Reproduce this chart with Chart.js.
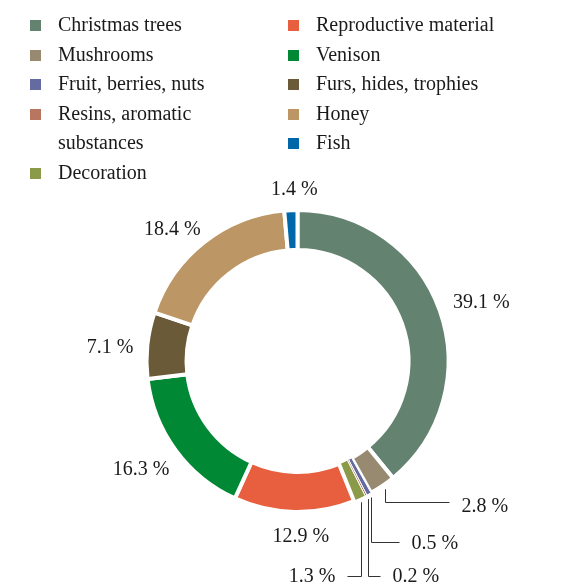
<!DOCTYPE html>
<html>
<head>
<meta charset="utf-8">
<script src="https://cdn.jsdelivr.net/npm/chart.js@4"></script>
<style>
  html, body { margin: 0; padding: 0; background: #fff; }
  #wrap { position: relative; width: 567px; height: 585px; }
  #chart { position: absolute; left: 0; top: 0; }
  #legend { position: absolute; left: 0; top: 0; font-family: "Liberation Serif", serif; font-size: 20px; color: #1a1a1a; }
  .col { position: absolute; top: 10px; }
  .item { position: relative; padding-left: 28px; line-height: 29.5px; white-space: nowrap; }
  .item.wrap { white-space: normal; width: 150px; }
  .item i { position: absolute; left: 0; top: 10px; width: 11px; height: 11px; }
</style>
</head>
<body>
<div id="wrap">
  <canvas id="chart" width="567" height="585"></canvas>
  <div id="legend"></div>
</div>
<script>
const categories = [
  "Christmas trees", "Mushrooms", "Fruit, berries, nuts", "Resins, aromatic substances", "Decoration",
  "Reproductive material", "Venison", "Furs, hides, trophies", "Honey", "Fish"
];
const shares = [39.1, 2.8, 0.5, 0.2, 1.3, 12.9, 16.3, 7.1, 18.4, 1.4];
const colors = [
  "#648270", "#978a70", "#646ba0", "#b87660", "#8a9a48",
  "#e85f3f", "#008834", "#6a5a38", "#bc9664", "#0068a8"
];
const borders = [4, 4, 1, 1, 1, 4, 4, 4, 4, 4];

// leader lines for the thin slices: [drop, run, text dy] in px
const leaders = { 1: [13, 64, 4], 2: [44, 28, 1], 3: [77, 12, 0], 4: [74, -14, 0] };
// small hand nudges for the outside labels, [dx, dy]
const nudges = { 5: [7, 3], 6: [5, 7], 7: [0, 5], 8: [5, 5], 9: [4, 2] };

// legend (two columns, same order as the data)
const legend = document.getElementById("legend");
[[0, 5, 30], [5, 10, 288]].forEach(([a, b, left]) => {
  const col = document.createElement("div");
  col.className = "col";
  col.style.left = left + "px";
  for (let i = a; i < b; i++) {
    const it = document.createElement("div");
    it.className = "item" + (categories[i].length > 22 ? " wrap" : "");
    it.innerHTML = '<i style="background:' + colors[i] + '"></i>' + categories[i];
    col.appendChild(it);
  }
  legend.appendChild(col);
});

const pctLabels = {
  id: "pctLabels",
  afterDatasetsDraw(chart) {
    const ctx = chart.ctx;
    const arcs = chart.getDatasetMeta(0).data;
    ctx.save();
    ctx.font = '20px "Liberation Serif", serif';
    ctx.fillStyle = "#1a1a1a";
    ctx.strokeStyle = "#333";
    ctx.lineWidth = 1;
    ctx.textBaseline = "middle";
    arcs.forEach((arc, i) => {
      const { x, y, startAngle, endAngle, outerRadius } = arc.getProps(["x", "y", "startAngle", "endAngle", "outerRadius"], true);
      const mid = (startAngle + endAngle) / 2;
      const cos = Math.cos(mid), sin = Math.sin(mid);
      const text = shares[i].toFixed(1) + " %";
      if (leaders[i]) {
        const [drop, run, tdy] = leaders[i];
        const sx = Math.round(x + (outerRadius + 4) * cos) + 0.5;
        const sy = y + (outerRadius + 4) * sin;
        const ey = Math.round(sy + drop) + 0.5;
        ctx.beginPath();
        ctx.moveTo(sx, sy);
        ctx.lineTo(sx, ey);
        ctx.lineTo(sx + run, ey);
        ctx.stroke();
        ctx.textAlign = run > 0 ? "left" : "right";
        ctx.fillText(text, sx + run + (run > 0 ? 12 : -12), ey + tdy);
        return;
      }
      const [dx, dy] = nudges[i] || [0, 0];
      const r = outerRadius + 14;
      const ax = x + r * cos, ay = y + r * sin;
      ctx.textAlign = Math.abs(cos) < 0.2 ? "center" : (cos > 0 ? "left" : "right");
      ctx.fillText(text, ax + dx, ay + sin * 8 + dy);
    });
    ctx.restore();
  }
};

new Chart(document.getElementById("chart"), {
  type: "doughnut",
  data: {
    labels: categories,
    datasets: [{
      data: shares,
      backgroundColor: colors,
      borderColor: "#ffffff",
      borderWidth: borders,
      hoverOffset: 0
    }]
  },
  options: {
    responsive: false,
    animation: false,
    cutout: "73.5%",
    rotation: 0,
    layout: { padding: { left: 144.5, right: 116.5, top: 208, bottom: 71 } },
    plugins: {
      legend: { display: false },
      tooltip: { enabled: false }
    }
  },
  plugins: [pctLabels]
});
</script>
</body>
</html>
